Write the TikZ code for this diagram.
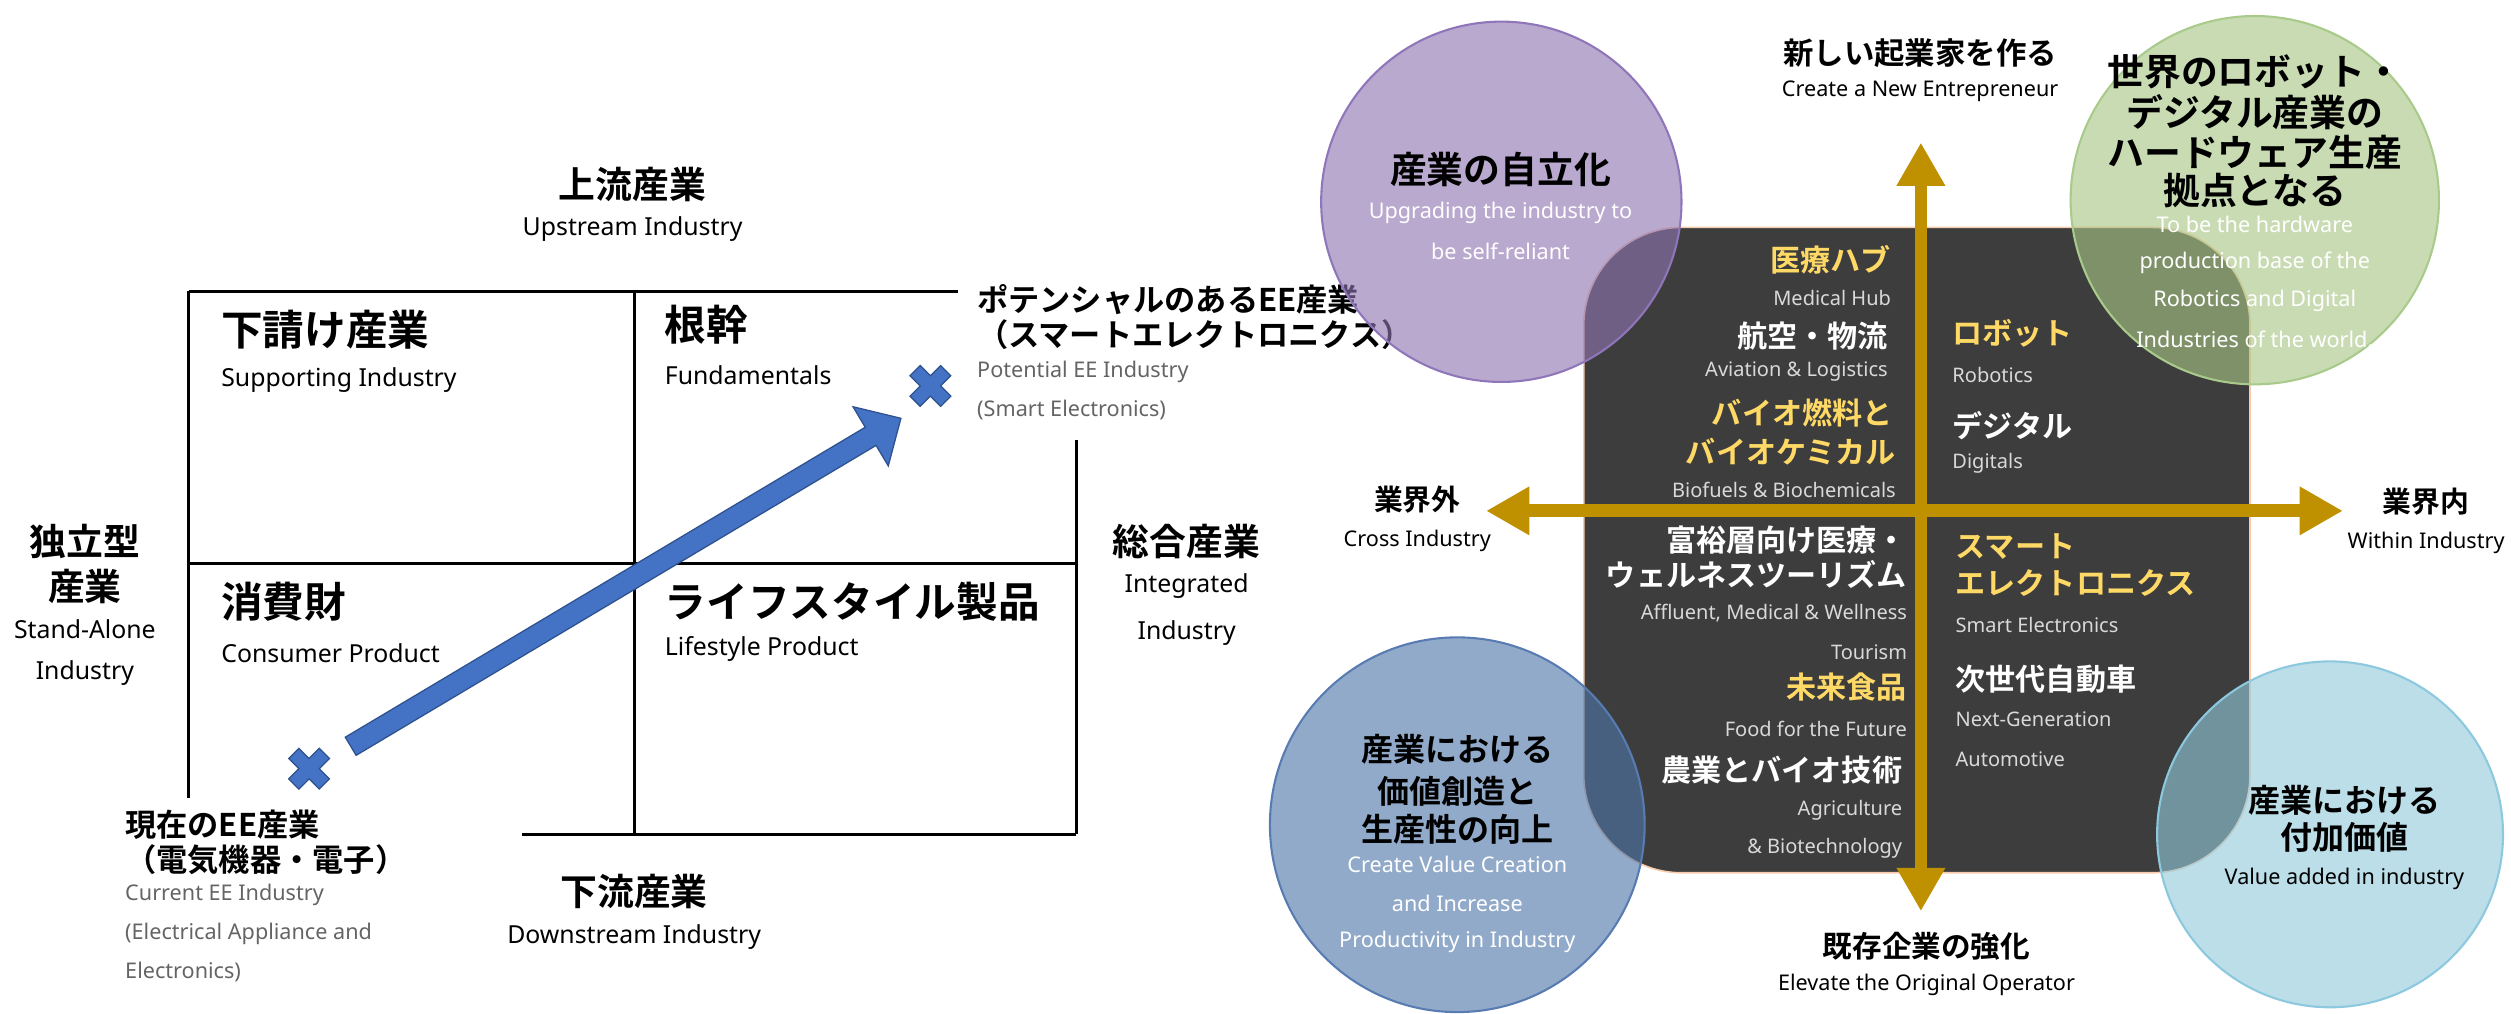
\documentclass[tikz,border=0pt]{standalone}
\usepackage{fontspec}
\setmainfont{Noto Sans}
\newfontfamily\jp{Noto Sans CJK JP Bold}
\usetikzlibrary{arrows.meta,shapes.geometric}
\definecolor{xblue}{RGB}{68,114,196}
\definecolor{xblueD}{RGB}{47,82,143}
\definecolor{gold}{RGB}{191,144,0}
\definecolor{panel}{RGB}{61,61,61}
\definecolor{peach}{RGB}{248,203,173}
\definecolor{ylw}{RGB}{255,217,102}
\definecolor{lgray}{RGB}{217,217,217}
\definecolor{mgray}{RGB}{100,100,100}
\definecolor{purpleF}{RGB}{142,116,176}
\definecolor{purpleD}{RGB}{143,118,186}
\definecolor{greenF}{RGB}{168,197,132}
\definecolor{greenD}{RGB}{168,202,138}
\definecolor{blueF}{RGB}{78,118,168}
\definecolor{blueD}{RGB}{88,124,178}
\definecolor{lblueF}{RGB}{146,201,218}
\definecolor{lblueD}{RGB}{140,200,222}
\tikzset{
  gridline/.style={line width=1.9pt, black},
  jpL/.style={font=\jp\fontsize{26}{30}\selectfont, inner sep=0pt},
  jpM/.style={font=\jp\fontsize{23}{26}\selectfont, inner sep=0pt},
  jpS/.style={font=\jp\fontsize{19.5}{22}\selectfont, inner sep=0pt},
  jpR/.style={font=\jp\fontsize{18.8}{22}\selectfont, inner sep=0pt},
  jpC/.style={font=\jp\fontsize{20}{22}\selectfont, inner sep=0pt},
  enL/.style={font=\fontsize{15.5}{18}\selectfont, inner sep=0pt},
  enS/.style={font=\fontsize{13.5}{16}\selectfont, inner sep=0pt},
  enR/.style={font=\fontsize{12.5}{15}\selectfont, inner sep=0pt, lgray},
  enC/.style={font=\fontsize{13.5}{16}\selectfont, inner sep=0pt, white},
  axisarrow/.style={gold, line width=8pt, {Triangle[width=28.5pt,length=27pt]}-{Triangle[width=28.5pt,length=27pt]}},
  bubble/.style={circle, inner sep=0pt, fill opacity=0.62, line width=1.3pt},
  xmark/.pic={\path[fill=xblue, draw=xblueD, line width=0.8pt, rotate=45]
     (-4.5,-13.5) -- (4.5,-13.5) -- (4.5,-4.5) -- (13.5,-4.5) -- (13.5,4.5) -- (4.5,4.5)
     -- (4.5,13.5) -- (-4.5,13.5) -- (-4.5,4.5) -- (-13.5,4.5) -- (-13.5,-4.5) -- (-4.5,-4.5) -- cycle;}
}
\begin{document}
\begin{tikzpicture}[x=1pt,y=-1pt]
\useasboundingbox (0,0) rectangle (1568,633);
% ---------------- left diagram ----------------
\draw[gridline] (118,182) -- (598,182);
\draw[gridline] (118,182) -- (118,498);
\draw[gridline] (118,352) -- (672,352);
\draw[gridline] (396,182) -- (396,521);
\draw[gridline] (326,521) -- (672,521);
\draw[gridline] (672,275) -- (672,521);

\node[jpM] (up) at (395,115) {上流産業};
\node[enL] (upE) at (395,143) {Upstream Industry};
\node[jpL, anchor=west] (q1) at (138,206) {下請け産業};
\node[enL, anchor=west] (q1e) at (138,237) {Supporting Industry};
\node[jpL, anchor=west] (q2) at (415,203) {根幹};
\node[enL, anchor=west] (q2e) at (415,234) {Fundamentals};
\node[jpL, anchor=west] (q3) at (138,376) {消費財};
\node[enL, anchor=west] (q3e) at (138,408) {Consumer Product};
\node[jpL, anchor=west] (q4) at (415,376) {ライフスタイル製品};
\node[enL, anchor=west] (q4e) at (415,405) {Lifestyle Product};
\node[jpM] (sa1) at (53,338) {独立型};
\node[jpM] (sa2) at (53,366) {産業};
\node[enL] (sa3) at (53,393) {Stand-Alone};
\node[enL] (sa4) at (53,420) {Industry};
\node[jpM] (in1) at (741,338) {総合産業};
\node[enL] (in2) at (741,366) {Integrated};
\node[enL] (in3) at (741,395) {Industry};
\node[jpM] (dn) at (396,557) {下流産業};
\node[enL] (dnE) at (396,585) {Downstream Industry};
\node[jpS, anchor=west] (cur1) at (78,515) {現在のEE産業};
\node[jpS, anchor=west] (cur2) at (78,537) {（電気機器・電子）};
\node[enS, mgray, anchor=west] (cur3) at (78,559) {Current EE Industry};
\node[enS, mgray, anchor=west] (cur4) at (78,583) {(Electrical Appliance and};
\node[enS, mgray, anchor=west] (cur5) at (78,607) {Electronics)};
\node[jpS, anchor=west] (pot1) at (610,187) {ポテンシャルのあるEE産業};
\node[jpS, anchor=west] (pot2) at (610,209) {（スマートエレクトロニクス）};
\node[enS, mgray, anchor=west] (pot3) at (610,232) {Potential EE Industry};
\node[enS, mgray, anchor=west] (pot4) at (610,256) {(Smart Electronics)};

\coordinate (curX) at (193,480);
\coordinate (potX) at (581,241);
\coordinate (tail) at (219,466);
\pic at (curX) {xmark};
\pic at (potX) {xmark};
\begin{scope}[shift={(tail)}, rotate=30.8]
  \path[fill=xblue, draw=xblueD, line width=0.8pt]
    (0,-6.6) -- (378,-6.6) -- (378,-21.5) -- (400,0) -- (378,21.5) -- (378,6.6) -- (0,6.6) -- cycle;
\end{scope}

% ---------------- right diagram ----------------
\node[draw=peach, fill=panel, line width=1pt, rounded corners=61pt, minimum width=416pt, minimum height=403pt, inner sep=0pt] (panelbox) at (1197,343.5) {};

\coordinate (vt) at (1199.5,89);
\coordinate (vb) at (1199.5,569);
\coordinate (hl) at (928,319);
\coordinate (hr) at (1463,319);
\draw[axisarrow] (vb) -- (vt);
\draw[axisarrow] (hl) -- (hr);

\node[jpS, font=\jp\fontsize{19}{22}\selectfont] (top1) at (1199,33) {新しい起業家を作る};
\node[enS] (top2) at (1199,57) {Create a New Entrepreneur};
\node[jpS, font=\jp\fontsize{18.5}{22}\selectfont] (bot1) at (1203,591) {既存企業の強化};
\node[enS] (bot2) at (1203,615) {Elevate the Original Operator};
\node[jpS, font=\jp\fontsize{18}{22}\selectfont] (lft1) at (885,312) {業界外};
\node[enS] (lft2) at (885,338) {Cross Industry};
\node[jpS, font=\jp\fontsize{18}{22}\selectfont] (rgt1) at (1515,313) {業界内};
\node[enS] (rgt2) at (1515,339) {Within Industry};

% left column (right aligned)
\node[jpR, ylw, anchor=east] (a1) at (1181,162) {医療ハブ};
\node[enR, anchor=east] (a2) at (1181,186) {Medical Hub};
\node[jpR, white, anchor=east] (a3) at (1179,210) {航空・物流};
\node[enR, anchor=east] (a4) at (1179,232) {Aviation \& Logistics};
\node[jpR, ylw, anchor=east] (a5) at (1182,258) {バイオ燃料と};
\node[jpR, ylw, anchor=east] (a6) at (1184,282) {バイオケミカル};
\node[enR, anchor=east] (a7) at (1184,306) {Biofuels \& Biochemicals};
\node[jpR, white, anchor=east] (a8) at (1191,337) {富裕層向け医療・};
\node[jpR, white, anchor=east] (a9) at (1191,359) {ウェルネスツーリズム};
\node[enR, anchor=east] (a10) at (1191,383) {Affluent, Medical \& Wellness};
\node[enR, anchor=east] (a11) at (1191,407) {Tourism};
\node[jpR, ylw, anchor=east] (a12) at (1191,429) {未来食品};
\node[enR, anchor=east] (a13) at (1191,455) {Food for the Future};
\node[jpR, white, anchor=east] (a14) at (1188,481) {農業とバイオ技術};
\node[enR, anchor=east] (a15) at (1188,506) {Agriculture};
\node[enR, anchor=east] (a16) at (1188,530) {\& Biotechnology};
% right column (left aligned)
\node[jpR, ylw, anchor=west] (b1) at (1219,208) {ロボット};
\node[enR, anchor=west] (b2) at (1219,234) {Robotics};
\node[jpR, white, anchor=west] (b3) at (1219,266) {デジタル};
\node[enR, anchor=west] (b4) at (1219,289) {Digitals};
\node[jpR, ylw, anchor=west] (b5) at (1221,341) {スマート};
\node[jpR, ylw, anchor=west] (b6) at (1221,364) {エレクトロニクス};
\node[enR, anchor=west] (b7) at (1221,390) {Smart Electronics};
\node[jpR, white, anchor=west] (b8) at (1221,424) {次世代自動車};
\node[enR, anchor=west] (b9) at (1221,449) {Next-Generation};
\node[enR, anchor=west] (b10) at (1221,474) {Automotive};

% bubbles
\node[bubble, fill=purpleF, draw=purpleD, minimum size=225pt] (cPurple) at (937.5,126) {};
\node[bubble, fill=greenF, draw=greenD, minimum size=230pt] (cGreen) at (1408,125) {};
\node[bubble, fill=blueF, draw=blueD, minimum size=234pt] (cBlue) at (910,515) {};
\node[bubble, fill=lblueF, draw=lblueD, minimum size=216pt] (cLblue) at (1455,521) {};

\node[jpM] (p1) at (937,106) {産業の自立化};
\node[enC] (p2) at (937,133) {Upgrading the industry to};
\node[enC] (p3) at (937,157) {be self-reliant};

\node[jpM] (g1) at (1408,45) {世界のロボット・};
\node[jpM] (g2) at (1408,70) {デジタル産業の};
\node[jpM] (g3) at (1408,95) {ハードウェア生産};
\node[jpM] (g4) at (1408,119) {拠点となる};
\node[enC] (g5) at (1408,140) {To be the hardware};
\node[enC] (g6) at (1408,164) {production base of the};
\node[enC] (g7) at (1408,188) {Robotics and Digital};
\node[enC] (g8) at (1408,212) {Industries of the world.};

\node[jpC] (k1) at (910,468) {産業における};
\node[jpC] (k2) at (910,494) {価値創造と};
\node[jpC] (k3) at (910,518) {生産性の向上};
\node[enC] (k4) at (910,540) {Create Value Creation};
\node[enC] (k5) at (910,564) {and Increase};
\node[enC] (k6) at (910,588) {Productivity in Industry};

\node[jpC] (l1) at (1464,500) {産業における};
\node[jpC] (l2) at (1464,523) {付加価値};
\node[enS] (l3) at (1464,549) {Value added in industry};
\end{tikzpicture}
\end{document}
